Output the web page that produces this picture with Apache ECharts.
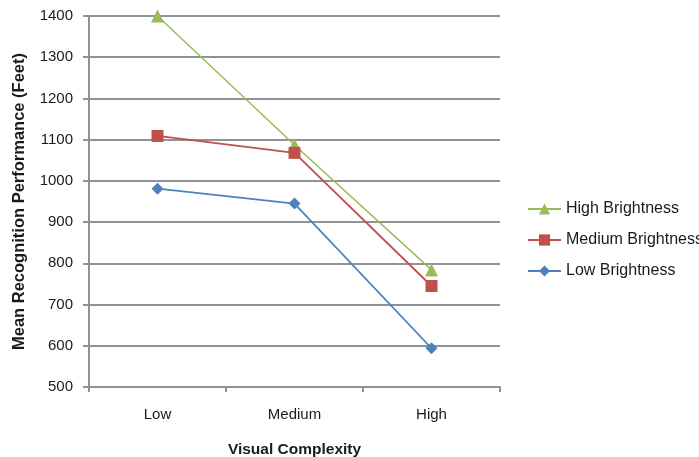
<!DOCTYPE html>
<html><head><meta charset="utf-8">
<script src="https://cdn.jsdelivr.net/npm/echarts@6/dist/echarts.min.js"></script>
<style>html,body{margin:0;padding:0;background:#fff}#c{width:699px;height:457px}</style>
</head><body><div id="c"></div>
<script>
const categories = ['Low', 'Medium', 'High'];
const highBrightness = [1400, 1087, 784];
const mediumBrightness = [1109, 1068, 745];
const lowBrightness = [981, 945, 594];
const yTicks = {min: 500, max: 1400, interval: 100};

const chart = echarts.init(document.getElementById('c'));
const font = 'Liberation Sans, Arial, sans-serif';
const gridColor = '#8e9399';
const textColor = '#1a1a1a';
chart.setOption({
  animation: false,
  grid: {left: 89, right: 199, top: 16, bottom: 70, outerBoundsMode: 'none', containLabel: false},
  legend: {
    orient: 'vertical', left: 527, top: 201, itemGap: 15, padding: 0,
    itemWidth: 33, itemHeight: 14,
    textStyle: {fontFamily: font, fontSize: 16, color: textColor, overflow: 'none'},
    data: ['High Brightness', 'Medium Brightness', 'Low Brightness']
  },
  xAxis: {
    type: 'category', data: categories, boundaryGap: true,
    name: 'Visual Complexity', nameLocation: 'middle', nameGap: 55,
    nameTextStyle: {fontFamily: font, fontSize: 15.5, fontWeight: 'bold', color: textColor},
    axisLine: {lineStyle: {color: gridColor, width: 2}},
    axisTick: {show: true, length: 5, lineStyle: {color: gridColor, width: 2}},
    axisLabel: {fontFamily: font, fontSize: 15, color: textColor, margin: 20}
  },
  yAxis: {
    type: 'value', min: yTicks.min, max: yTicks.max, interval: yTicks.interval,
    name: 'Mean Recognition Performance (Feet)', nameLocation: 'middle', nameGap: 61,
    nameTextStyle: {fontFamily: font, fontSize: 16.5, fontWeight: 'bold', color: textColor},
    axisLine: {show: true, lineStyle: {color: gridColor, width: 2}},
    axisTick: {show: true, length: 6, lineStyle: {color: gridColor, width: 2}},
    axisLabel: {fontFamily: font, fontSize: 15, color: textColor, margin: 16,
      formatter: v => String(v)},
    splitLine: {lineStyle: {color: gridColor, width: 2}}
  },
  series: [
    {name: 'High Brightness', type: 'line', data: highBrightness, symbol: 'triangle', symbolSize: 13,
     itemStyle: {color: '#9BBB59'}, lineStyle: {width: 1.5, color: '#9BBB59'}, z: 3},
    {name: 'Medium Brightness', type: 'line', data: mediumBrightness, symbol: 'rect', symbolSize: 12,
     itemStyle: {color: '#C0504D'}, lineStyle: {width: 1.8, color: '#C0504D'}, z: 4},
    {name: 'Low Brightness', type: 'line', data: lowBrightness, symbol: 'diamond', symbolSize: 12,
     itemStyle: {color: '#4F81BD'}, lineStyle: {width: 1.8, color: '#4F81BD'}, z: 5}
  ]
});
</script></body></html>
